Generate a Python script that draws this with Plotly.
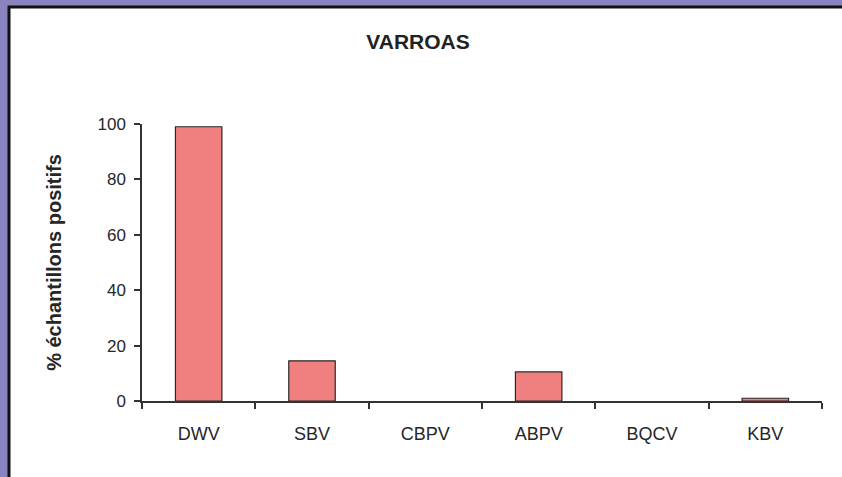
import plotly.graph_objects as go

categories = ["DWV", "SBV", "CBPV", "ABPV", "BQCV", "KBV"]
pct_positive = [99, 14.5, 0, 10.5, 0, 1]
y_ticks = [0, 20, 40, 60, 80, 100]

FONT = "Liberation Sans, Arial, sans-serif"

fig = go.Figure()
fig.add_trace(
    go.Bar(
        x=categories,
        y=pct_positive,
        marker=dict(
            color="#f07f7f",
            # empty categories get no outline so nothing shows on the axis
            line=dict(color="#2a2a2a", width=[1.2 if v > 0 else 0 for v in pct_positive]),
        ),
        width=0.41,
    )
)

# white card with dark top/left edge on the purple page
fig.add_shape(
    type="rect", xref="paper", yref="paper",
    x0=(9 - 142) / 680, x1=(860 - 142) / 680,
    y0=(401 - 500) / 277, y1=(401 - 7) / 277,
    fillcolor="white", line=dict(color="#111111", width=3), layer="below",
)

fig.update_layout(
    width=842,
    height=477,
    paper_bgcolor="#8983c0",
    plot_bgcolor="rgba(0,0,0,0)",
    margin=dict(l=142, r=20, t=124, b=76),
    showlegend=False,
    font=dict(family=FONT, color="#262626"),
    title=dict(
        text="<b>VARROAS</b>", x=418 / 842, xanchor="center",
        y=1 - 42 / 477, yanchor="middle", font=dict(size=21, color="#222222"),
    ),
    xaxis=dict(
        showline=True, linecolor="#333333", linewidth=1.5,
        ticks="outside", ticklen=6, tickcolor="#333333", tickwidth=1.5,
        tickson="boundaries", tickfont=dict(size=18), showgrid=False,
        ticklabelstandoff=16,
    ),
    yaxis=dict(
        range=[0, 100], tickvals=y_ticks,
        showline=True, linecolor="#333333", linewidth=1.5,
        ticks="outside", ticklen=6, tickcolor="#333333", tickwidth=1.5,
        tickfont=dict(size=17), showgrid=False, zeroline=False,
        ticklabelstandoff=5,
        title=dict(text="<b>% échantillons positifs</b>", font=dict(size=20), standoff=30),
    ),
)

fig.write_html(
    "out.html",
    config={"displayModeBar": False},
    post_script="document.body.style.margin='0';",
)
